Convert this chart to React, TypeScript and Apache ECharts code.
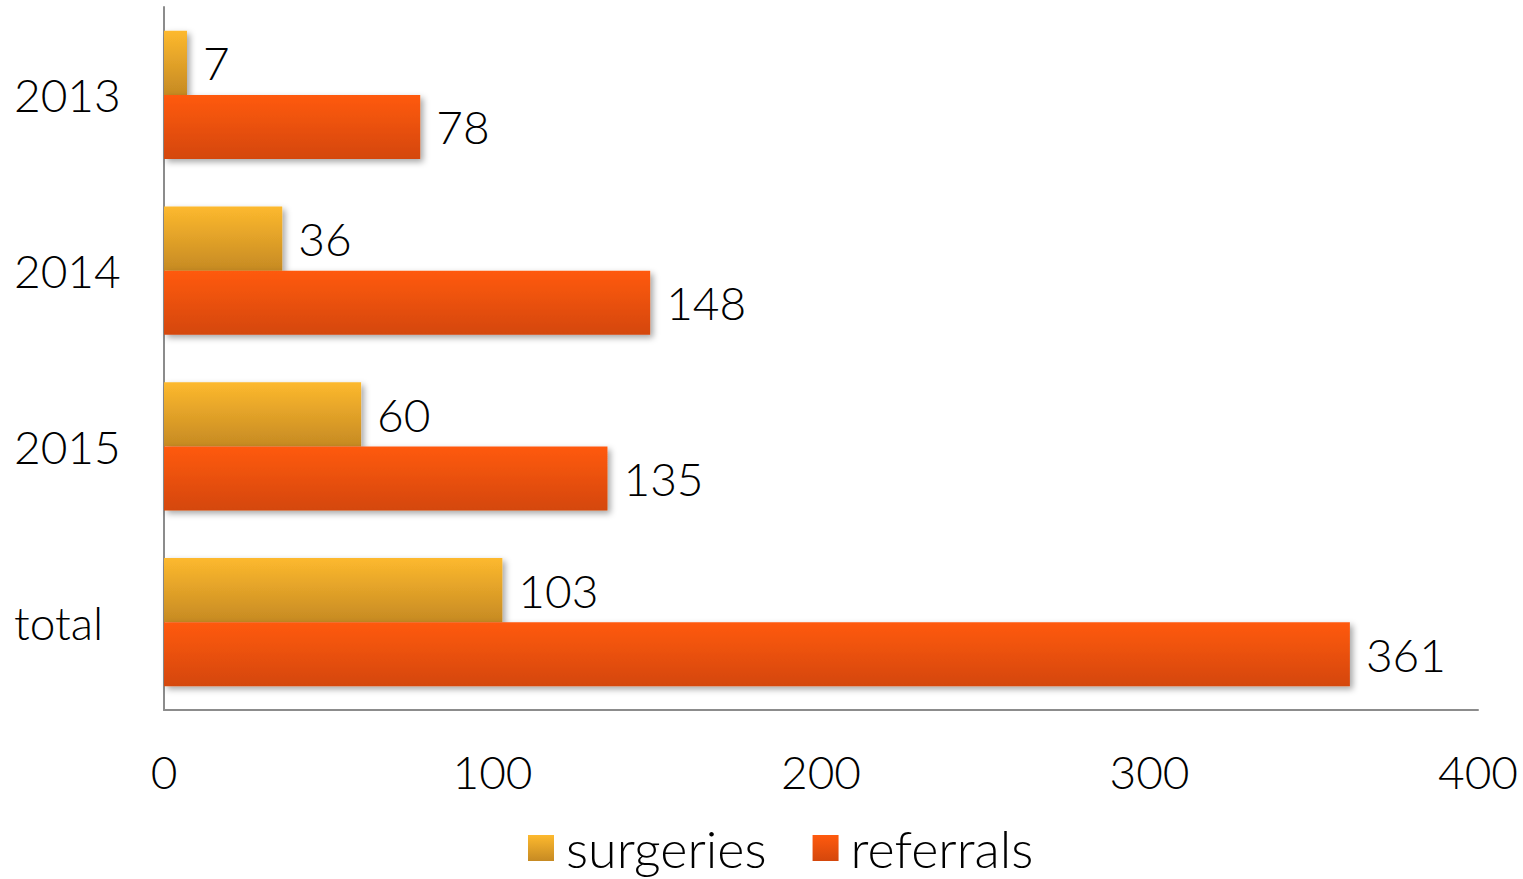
import React, { useEffect, useRef } from "react";
import * as echarts from "echarts";

const categories = ["2013", "2014", "2015", "total"];
const surgeries = [7, 36, 60, 103];
const referrals = [78, 148, 135, 361];
const xTicks = [0, 100, 200, 300, 400];

const FONT = "Lato, 'Open Sans', sans-serif";

export default function App() {
  const ref = useRef<HTMLDivElement>(null);
  useEffect(() => {
    const chart = echarts.init(ref.current!, null, { renderer: "svg" });
    const grad = (top: string, bottom: string) =>
      new echarts.graphic.LinearGradient(0, 0, 0, 1, [
        { offset: 0, color: top },
        { offset: 1, color: bottom },
      ]);
    const labelStyle = {
      show: true,
      position: "right" as const,
      distance: 16,
      color: "#000",
      fontSize: 46,
      fontWeight: 300,
      fontFamily: FONT,
    };
    const shadow = {
      shadowColor: "rgba(0,0,0,0.35)",
      shadowBlur: 6,
      shadowOffsetX: 3,
      shadowOffsetY: 3,
    };
    chart.setOption({
      animation: false,
      backgroundColor: "#fff",
      grid: { left: 164, top: 7, right: 45, bottom: 169, containLabel: false },
      legend: {
        bottom: 0,
        left: 523,
        itemWidth: 26,
        itemHeight: 26,
        itemGap: 46,
        icon: "rect",
        textStyle: {
          fontSize: 52,
          fontWeight: 300,
          fontFamily: FONT,
          color: "#000",
          padding: [0, 0, 0, 7],
        },
        data: ["surgeries", "referrals"],
      },
      xAxis: {
        type: "value",
        min: xTicks[0],
        max: xTicks[xTicks.length - 1],
        interval: 100,
        axisLine: { show: true, lineStyle: { color: "#8c8c8c", width: 2 } },
        axisTick: { show: false },
        splitLine: { show: false },
        axisLabel: { color: "#000", fontSize: 46, fontWeight: 300, fontFamily: FONT, margin: 38 },
      },
      yAxis: {
        type: "category",
        data: categories,
        inverse: true,
        axisLine: { show: true, lineStyle: { color: "#8c8c8c", width: 2 } },
        axisTick: { show: false },
        axisLabel: {
          color: "#000",
          fontSize: 46,
          fontWeight: 300,
          fontFamily: FONT,
          margin: 150,
          align: "left",
          verticalAlign: "middle",
          padding: [0, 0, 4, 0],
        },
      },
      series: [
        {
          name: "surgeries",
          type: "bar",
          data: surgeries,
          barGap: "0%",
          barCategoryGap: "27%",
          itemStyle: { color: grad("#FDB92E", "#C68A23"), ...shadow },
          label: labelStyle,
        },
        {
          name: "referrals",
          type: "bar",
          data: referrals,
          barGap: "0%",
          barCategoryGap: "27%",
          itemStyle: { color: grad("#FF5A0E", "#D4470C"), ...shadow },
          label: labelStyle,
        },
      ],
    });
    return () => chart.dispose();
  }, []);
  return (
    <div
      ref={ref}
      style={{ position: "absolute", left: 0, top: 0, width: 1523, height: 879 }}
    />
  );
}
